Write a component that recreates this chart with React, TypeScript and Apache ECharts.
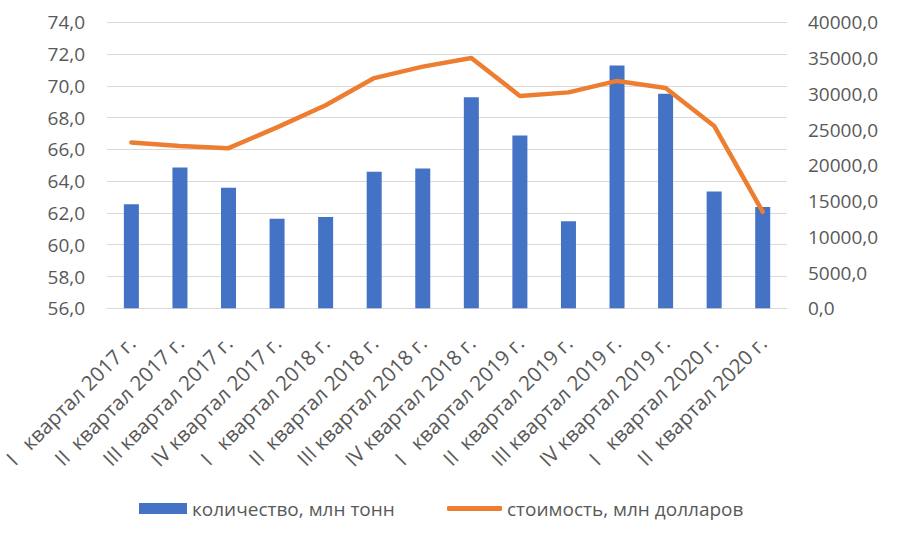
import React, { useEffect, useRef } from "react";
import * as echarts from "echarts";

const NB = "\u00a0";
const quarterNames = ["I" + NB + NB + NB, "II" + NB + NB, "III" + NB, "IV" + NB, "I" + NB + NB + NB, "II" + NB + NB, "III" + NB, "IV" + NB, "I" + NB + NB + NB, "II" + NB + NB, "III" + NB, "IV" + NB, "I" + NB + NB + NB, "II" + NB + NB];
const years = ["2017", "2017", "2017", "2017", "2018", "2018", "2018", "2018", "2019", "2019", "2019", "2019", "2020", "2020"];
const categories = quarterNames.map((q, i) => `${q}квартал ${years[i]} г.`);

const quantity = [62.55, 64.86, 63.58, 61.63, 61.75, 64.59, 64.8, 69.29, 66.87, 61.48, 71.28, 69.5, 63.35, 62.38];
const cost = [23200, 22700, 22400, 25300, 28400, 32200, 33800, 35000, 29700, 30200, 31800, 30800, 25500, 13500];

const seriesNames = ["количество, млн тонн", "стоимость, млн долларов"];

const FONT = "'Open Sans', 'Noto Sans', sans-serif";
const TEXT = "#595959";
const fmt = (v: number) => v.toFixed(1).replace(".", ",");

export default function App() {
  const ref = useRef<HTMLDivElement>(null);
  useEffect(() => {
    if (!ref.current) return;
    const chart = echarts.init(ref.current, undefined, { renderer: "svg" });
    const legendText = { fontFamily: FONT, fontSize: 19, color: TEXT };
    chart.setOption({
      animation: false,
      backgroundColor: "#ffffff",
      textStyle: { fontFamily: FONT },
      grid: { left: 102.5, right: 113, top: 22.3, bottom: 228.7, containLabel: false },
      legend: [
        {
          left: 134,
          top: 494,
          itemWidth: 48,
          itemHeight: 11,
          textStyle: legendText,
          data: [{ name: seriesNames[0], icon: "rect" }],
        },
        {
          left: 442,
          top: 494,
          itemWidth: 55,
          itemHeight: 5,
          textStyle: legendText,
          data: [{ name: seriesNames[1], icon: "roundRect" }],
        },
      ],
      xAxis: {
        type: "category",
        data: categories,
        axisLine: { show: true, lineStyle: { color: "#D9D9D9", width: 1 } },
        axisTick: { show: false },
        axisLabel: {
          interval: 0,
          rotate: 45,
          margin: 31,
          fontSize: 20.5,
          fontFamily: FONT,
          color: TEXT,
        },
      },
      yAxis: [
        {
          type: "value",
          min: 56,
          max: 74,
          interval: 2,
          axisLine: { show: false },
          axisTick: { show: false },
          splitLine: { lineStyle: { color: "#D9D9D9", width: 1 } },
          axisLabel: { formatter: fmt, fontSize: 19, fontFamily: FONT, color: TEXT, margin: 22 },
        },
        {
          type: "value",
          min: 0,
          max: 40000,
          interval: 5000,
          axisLine: { show: false },
          axisTick: { show: false },
          splitLine: { show: false },
          axisLabel: { formatter: fmt, fontSize: 19, fontFamily: FONT, color: TEXT, margin: 21 },
        },
      ],
      series: [
        {
          name: seriesNames[0],
          type: "bar",
          yAxisIndex: 0,
          data: quantity,
          barWidth: 15,
          itemStyle: { color: "#4472C4" },
        },
        {
          name: seriesNames[1],
          type: "line",
          yAxisIndex: 1,
          data: cost,
          symbol: "none",
          lineStyle: { color: "#ED7D31", width: 4.5, cap: "round", join: "round" },
          itemStyle: { color: "#ED7D31" },
        },
      ],
    });
    return () => chart.dispose();
  }, []);
  return <div ref={ref} style={{ position: "absolute", left: 0, top: 0, width: 900, height: 537 }} />;
}
